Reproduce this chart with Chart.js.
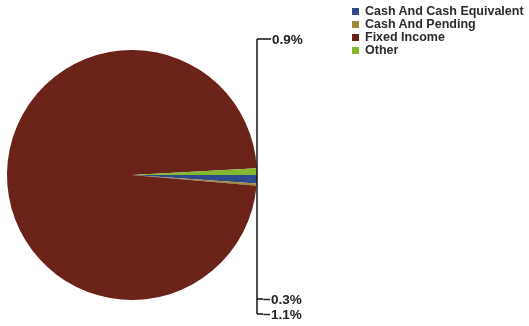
<!DOCTYPE html>
<html>
<head>
<meta charset="utf-8">
<script src="https://cdn.jsdelivr.net/npm/chart.js@4/dist/chart.umd.min.js"></script>
<style>
  html, body { margin: 0; padding: 0; background: #fff; }
  #wrap { position: relative; width: 529px; height: 326px; }
  #legend { position: absolute; left: 352px; top: 5px; font: bold 12.5px "Liberation Sans", Arial, sans-serif; color: #2a2a2a; }
  #legend div { height: 13px; line-height: 13px; white-space: nowrap; }
  #legend span { display: inline-block; width: 7px; height: 7px; margin-right: 6px; vertical-align: 0px; }
</style>
</head>
<body>
<div id="wrap">
  <canvas id="pie" width="529" height="326"></canvas>
  <div id="legend"></div>
</div>
<script>
const categories = ["Cash And Cash Equivalent", "Cash And Pending", "Fixed Income", "Other"];
const values = [-1.1, -0.3, 100.5, 0.9];
const colors = ["#2d4a8c", "#a08a38", "#6a2219", "#84b82f"];
// which slices get a callout label, and where the text sits
const calloutIndex = [3, 1, 0];
const calloutY = [39, 299, 314];

const legendEl = document.getElementById("legend");
categories.forEach((name, i) => {
    const row = document.createElement("div");
    row.innerHTML = `<span style="background:${colors[i]}"></span>${name}`;
    legendEl.appendChild(row);
});

const calloutPlugin = {
    id: "callouts",
    afterDraw(chart) {
        const ctx = chart.ctx;
        const arc = chart.getDatasetMeta(0).data[0];
        const lineX = arc.x + arc.outerRadius;
        ctx.save();
        ctx.strokeStyle = "#111";
        ctx.lineWidth = 1.5;
        ctx.beginPath();
        ctx.moveTo(lineX, calloutY[0]);
        ctx.lineTo(lineX, calloutY[calloutY.length - 1]);
        ctx.stroke();
        ctx.font = "bold 13.5px 'Liberation Sans', Arial, sans-serif";
        ctx.fillStyle = "#222";
        ctx.textBaseline = "middle";
        calloutIndex.forEach((idx, k) => {
            const y = calloutY[k];
            const v = values[idx];
            const txt = v < 0 ? "\u2212" + Math.abs(v).toFixed(1) + "%" : v.toFixed(1) + "%";
            ctx.beginPath();
            ctx.moveTo(lineX, y);
            ctx.lineTo(lineX + (v < 0 ? 6 : 14), y);
            ctx.stroke();
            ctx.fillText(txt, lineX + (v < 0 ? 6 : 15), y + 1);
        });
        ctx.restore();
    }
};

new Chart(document.getElementById("pie"), {
    type: "pie",
    data: {
        labels: categories,
        datasets: [{
            data: values,
            backgroundColor: colors,
            borderWidth: 0
        }]
    },
    options: {
        responsive: false,
        animation: false,
        rotation: 90,
        layout: { padding: { left: 6, top: 50, right: 271, bottom: 26 } },
        plugins: {
            legend: { display: false },
            tooltip: { enabled: false }
        }
    },
    plugins: [calloutPlugin]
});
</script>
</body>
</html>
